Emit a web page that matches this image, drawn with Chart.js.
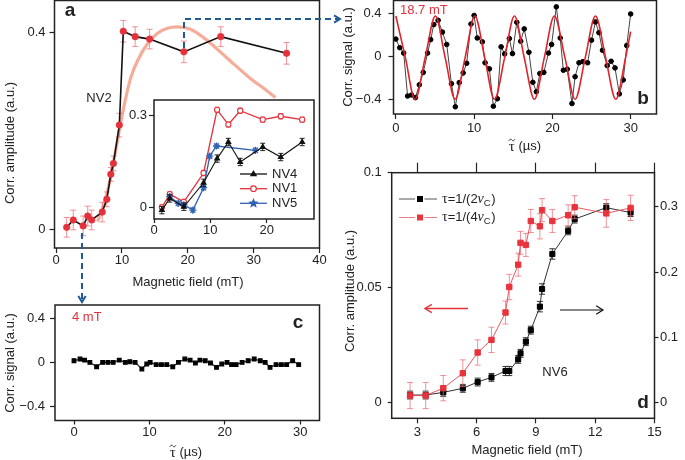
<!DOCTYPE html>
<html>
<head>
<meta charset="utf-8">
<script src="https://cdn.jsdelivr.net/npm/chart.js@4.4.1/dist/chart.umd.min.js"></script>
<style>
  html, body { margin: 0; padding: 0; background: #fff; }
  #wrap { position: relative; width: 685px; height: 460px; overflow: hidden; }
  canvas { position: absolute; left: 0; top: 0; }
</style>
</head>
<body>
<div id="wrap">
  <canvas id="cA" width="685" height="460"></canvas>
  <canvas id="cIn" width="685" height="460"></canvas>
  <canvas id="cB" width="685" height="460"></canvas>
  <canvas id="cC" width="685" height="460"></canvas>
  <canvas id="cD" width="685" height="460"></canvas>
</div>
<script>
// ── panel a: correlation amplitude vs field (NV2) ──
const aField = [1.6, 2.6, 4.1, 4.8, 5.4, 7.0, 7.7, 8.3, 8.7, 9.6, 10.2, 12.0, 14.2, 19.4, 25.0, 35.0];
const aAmp   = [0.004, 0.019, 0.007, 0.027, 0.019, 0.035, 0.061, 0.112, 0.134, 0.212, 0.403, 0.392, 0.387, 0.361, 0.392, 0.358];
const aErr   = [0.02, 0.02, 0.02, 0.02, 0.02, 0.02, 0.015, 0.014, 0.015, 0.024, 0.022, 0.02, 0.02, 0.022, 0.02, 0.022];
const aFitX  = [6.3, 7.3, 8.3, 9.3, 10.3, 11.3, 12.4, 13.9, 15.4, 16.9, 18.4, 20.4, 22.4, 24.5, 27.0, 29.5, 32.0, 33.3];
const aFitY  = [0.016, 0.053, 0.107, 0.18, 0.25, 0.307, 0.344, 0.378, 0.399, 0.409, 0.412, 0.407, 0.39, 0.366, 0.336, 0.307, 0.282, 0.268];
const aXTicks = [0, 10, 20, 30, 40];
const aYTicks = [0, 0.4];
const aYLabels = ['0', '0.4'];

// ── inset: NV1, NV4, NV5 ──
const inField = [1.4, 2.8, 5.3, 8.8, 11.2, 13.2, 15.3, 19.3, 22.5, 26.3];
const nv1 = [0.0, 0.043, 0.018, 0.112, 0.318, 0.27, 0.315, 0.286, 0.297, 0.286];
const nv4 = [-0.009, 0.029, 0.002, 0.08, 0.159, 0.213, 0.148, 0.197, 0.164, 0.213];
const nv5Field = [2.8, 4.3, 5.3, 6.9, 8.8, 9.9, 11.1, 18.0];
const nv5 = [0.035, 0.013, 0.008, -0.009, 0.064, 0.167, 0.2, 0.186];
const inXTicks = [0, 10, 20];
const inYTicks = [0, 0.3];
const inYLabels = ['0', '0.3'];

// ── panel b: correlation signal at 18.7 mT ──
const bTime = [0.0, 0.5, 1.0, 1.5, 2.0, 2.5, 3.0, 3.5, 4.05, 4.45, 4.85, 5.4, 5.95, 6.5, 7.1, 7.6, 8.1, 8.6, 9.05, 9.6,
  10.0, 10.4, 11.05, 11.4, 11.95, 12.46, 12.97, 13.45, 13.9, 14.5, 14.9, 15.45, 15.95, 16.4, 17.0, 17.5, 17.95, 18.4, 18.9, 19.5,
  19.9, 20.5, 21.0, 21.4, 21.9, 22.5, 22.9, 23.4, 23.9, 24.5, 25.0, 25.5, 25.95, 26.4, 27.0, 27.5, 28.0, 28.55, 29.05, 29.5, 30.0];
const bSig = [0.16, 0.08, 0.03, -0.37, -0.36, -0.385, -0.265, -0.15, 0.03, 0.155, 0.295, 0.335, 0.225, 0.11, -0.255, -0.47, -0.245, -0.155, -0.065, 0.3,
  0.38, 0.17, 0.134, -0.06, -0.117, -0.465, -0.395, 0.088, 0.022, 0.165, 0.025, 0.316, 0.14, 0.255, 0.037, -0.242, -0.33, -0.16, -0.15, 0.03,
  0.11, 0.46, 0.17, -0.13, -0.12, -0.44, -0.19, -0.06, -0.05, -0.06, 0.15, 0.32, 0.22, 0.056, -0.087, -0.046, -0.108, -0.35, -0.22, 0.10, 0.394];
const bFitT = [0, 1.22, 2.45, 3.75, 5.05, 6.3, 7.57, 8.85, 10.1, 11.35, 12.6, 13.9, 15.15, 16.4, 17.7, 18.97, 20.25, 21.6, 22.9, 24.2, 25.5, 26.8, 28.1, 29.35, 30.0];
const bFitY = [0.375, -0.012, -0.4, -0.012, 0.375, -0.012, -0.4, -0.012, 0.375, -0.012, -0.4, -0.012, 0.375, -0.012, -0.4, -0.012, 0.375, -0.012, -0.4, -0.012, 0.375, -0.012, -0.4, -0.012, 0.23];
const bXTicks = [0, 10, 20, 30];
const sigTicks = [-0.4, 0, 0.4];
const sigLabels = ['\u22120.4', '0', '0.4'];

// ── panel c: correlation signal at 4 mT ──
const cTime = [0, 0.8, 1.4, 2.1, 3.0, 3.8, 4.5, 5.2, 6.0, 6.8, 7.4, 8.1, 9.0, 9.65, 10.1, 10.9, 11.6, 12.3, 13.1, 13.85, 14.7,
  15.4, 16.1, 16.7, 17.4, 18.1, 18.9, 19.6, 20.3, 20.9, 21.5, 22.3, 23.1, 23.9, 24.7, 25.35, 26.0, 26.8, 27.5, 28.2, 29.0, 29.8];
const cSig = [0.015, 0.03, 0.02, 0, -0.04, 0, 0, 0, 0.02, 0, 0.006, 0, -0.06, -0.015, 0, -0.02, -0.02, -0.02, -0.04, 0, 0.03,
  0.02, -0.006, 0.02, 0.015, -0.006, -0.045, -0.015, 0, -0.02, -0.02, 0, 0.015, 0.03, 0.015, 0, -0.045, -0.02, -0.02, -0.02, 0.015, -0.02];
const cXTicks = [0, 10, 20, 30];

// ── panel d: NV6, two tau settings ──
const dField = [2.63, 3.42, 4.31, 5.3, 6.05, 6.75, 7.46, 7.65, 8.1, 8.22, 8.49, 8.74, 9.2, 9.31, 9.83, 10.63, 10.96, 12.56, 13.79];
const dRed   = [0.0031, 0.0031, 0.0063, 0.0128, 0.0218, 0.0273, 0.0392, 0.0503, 0.06, 0.0695, 0.0686, 0.079, 0.0767, 0.0837, 0.079, 0.0815, 0.085, 0.0823, 0.0847];
const dRedErr = [0.0057, 0.0057, 0.0055, 0.0058, 0.0055, 0.0055, 0.005, 0.0055, 0.005, 0.005, 0.005, 0.005, 0.0055, 0.005, 0.005, 0.0045, 0.005, 0.006, 0.0055];
const dBlack = [0.0117, 0.0117, 0.0158, 0.022, 0.0316, 0.0388, 0.0485, 0.0485, 0.0663, 0.0755, 0.0934, 0.111, 0.147, 0.174, 0.2276, 0.263, 0.281, 0.2985, 0.291];
const dBlackErr = [0.006, 0.006, 0.006, 0.006, 0.006, 0.006, 0.007, 0.007, 0.006, 0.006, 0.006, 0.006, 0.008, 0.008, 0.008, 0.006, 0.006, 0.006, 0.006];
const dXTicks = [3, 6, 9, 12, 15];
const dLTicks = [0, 0.05, 0.1];
const dLLabels = ['0', '0.05', '0.1'];
const dRTicks = [0, 0.1, 0.2, 0.3];
const dRLabels = ['0', '0.1', '0.2', '0.3'];

const W = 685, H = 460;
const FONT = '"Liberation Sans", Arial, Helvetica, sans-serif';
const SERIF = '"Liberation Serif", "Times New Roman", serif';
const INK = '#222';
const RED = '#e4313b';
const PINK = 'rgba(236,110,118,0.75)';
const BLUE = '#2f62b3';
const ARROW_BLUE = '#1f5a95';

const pts = (xs, ys) => xs.map((x, i) => ({ x, y: ys[i] }));

function scale(pos, min, max, vals, labels, size, tl, pad) {
    const horiz = pos === 'top' || pos === 'bottom';
    return {
        type: 'linear', position: pos, min, max,
        afterBuildTicks: s => { s.ticks = vals.map(v => ({ value: v })); },
        afterFit: s => {
            if (horiz) { s.height = size; s.paddingLeft = 0; s.paddingRight = 0; }
            else { s.width = size; s.paddingTop = 0; s.paddingBottom = 0; }
        },
        grid: { display: true, drawOnChartArea: false, drawTicks: true, tickLength: tl, tickColor: INK, tickWidth: 1.2 },
        border: { display: false },
        ticks: {
            display: !!labels, padding: pad, color: INK, font: { family: FONT, size: 13 },
            maxRotation: 0, autoSkip: false,
            callback: (v, i) => labels ? labels[i] : ''
        },
        title: { display: false }
    };
}

function pad(box, sizes) {
    return {
        left: box.l - (sizes.left || 0),
        top: box.t - (sizes.top || 0),
        right: W - box.r - (sizes.right || 0),
        bottom: H - box.b - (sizes.bottom || 0)
    };
}

const errPlugin = {
    id: 'errs',
    beforeDatasetDraw(chart, args) {
        const ds = chart.data.datasets[args.index];
        if (!ds.errY && !ds.errX) return;
        const meta = args.meta;
        const xs = chart.scales[meta.xAxisID], ys = chart.scales[meta.yAxisID];
        const ctx = chart.ctx;
        const cap = ds.errCap ?? 3;
        ctx.save();
        ctx.strokeStyle = ds.errColor || ds.borderColor;
        ctx.lineWidth = ds.errWidth || 1;
        ds.data.forEach((p, i) => {
            const x = xs.getPixelForValue(p.x), y = ys.getPixelForValue(p.y);
            ctx.beginPath();
            if (ds.errY) {
                const e = Array.isArray(ds.errY) ? ds.errY[i] : ds.errY;
                const y1 = ys.getPixelForValue(p.y - e), y2 = ys.getPixelForValue(p.y + e);
                ctx.moveTo(x, y1); ctx.lineTo(x, y2);
                if (cap) {
                    ctx.moveTo(x - cap, y1); ctx.lineTo(x + cap, y1);
                    ctx.moveTo(x - cap, y2); ctx.lineTo(x + cap, y2);
                }
            }
            if (ds.errX) {
                const e = Array.isArray(ds.errX) ? ds.errX[i] : ds.errX;
                ctx.moveTo(xs.getPixelForValue(p.x - e), y); ctx.lineTo(xs.getPixelForValue(p.x + e), y);
            }
            ctx.stroke();
        });
        ctx.restore();
    }
};

function text(ctx, s, x, y, o = {}) {
    ctx.save();
    ctx.font = `${o.bold ? 'bold ' : ''}${o.size || 13}px ${o.family || FONT}`;
    ctx.fillStyle = o.color || INK;
    ctx.textAlign = o.align || 'center';
    ctx.textBaseline = 'middle';
    ctx.translate(x, y);
    if (o.rot) ctx.rotate(o.rot);
    ctx.fillText(s, 0, 0);
    ctx.restore();
}

// "τ̃ (µs)" with the tilde drawn above the tau
function tauTitle(ctx, cx, cy) {
    ctx.save();
    ctx.fillStyle = INK; ctx.strokeStyle = INK;
    ctx.textBaseline = 'middle'; ctx.textAlign = 'left';
    ctx.font = `15px ${SERIF}`;
    const wt = ctx.measureText('\u03C4').width;
    ctx.font = `13px ${FONT}`;
    const rest = ' (\u00B5s)';
    const wr = ctx.measureText(rest).width;
    let x = cx - (wt + wr) / 2;
    ctx.font = `15px ${SERIF}`;
    ctx.fillText('\u03C4', x, cy + 1);
    ctx.lineWidth = 0.9;
    ctx.beginPath();
    const tx = x + wt / 2, ty = cy - 6;
    ctx.moveTo(tx - 3, ty + 0.8);
    ctx.bezierCurveTo(tx - 1.8, ty - 1.6, tx - 0.6, ty - 0.8, tx, ty);
    ctx.bezierCurveTo(tx + 0.6, ty + 0.8, tx + 1.8, ty + 1.6, tx + 3, ty - 0.8);
    ctx.stroke();
    ctx.font = `13px ${FONT}`;
    ctx.fillText(rest, x + wt, cy);
    ctx.restore();
}

function arrow(ctx, path, color, o = {}) {
    ctx.save();
    ctx.strokeStyle = color;
    ctx.lineWidth = o.w || 1.5;
    ctx.setLineDash(o.dash || []);
    ctx.beginPath();
    path.forEach((p, i) => i ? ctx.lineTo(p[0], p[1]) : ctx.moveTo(p[0], p[1]));
    ctx.stroke();
    ctx.setLineDash([]);
    const [x2, y2] = path[path.length - 1], [x1, y1] = path[path.length - 2];
    const a = Math.atan2(y2 - y1, x2 - x1), h = o.head || 7;
    ctx.beginPath();
    ctx.moveTo(x2 - h * Math.cos(a - 0.55), y2 - h * Math.sin(a - 0.55));
    ctx.lineTo(x2, y2);
    ctx.lineTo(x2 - h * Math.cos(a + 0.55), y2 - h * Math.sin(a + 0.55));
    ctx.stroke();
    ctx.restore();
}

function marker(ctx, style, x, y, r, fill, stroke) {
    ctx.save();
    ctx.fillStyle = fill; ctx.strokeStyle = stroke; ctx.lineWidth = 1.2;
    ctx.beginPath();
    if (style === 'triangle') {
        ctx.moveTo(x, y - r); ctx.lineTo(x + r * 0.95, y + r * 0.6); ctx.lineTo(x - r * 0.95, y + r * 0.6); ctx.closePath();
    } else if (style === 'rect') {
        ctx.rect(x - r, y - r, 2 * r, 2 * r);
    } else if (style === 'star') {
        for (let k = 0; k < 10; k++) {
            const rr = k % 2 ? r * 0.45 : r, a = -Math.PI / 2 + k * Math.PI / 5;
            k ? ctx.lineTo(x + rr * Math.cos(a), y + rr * Math.sin(a)) : ctx.moveTo(x + rr * Math.cos(a), y + rr * Math.sin(a));
        }
        ctx.closePath();
    } else {
        ctx.arc(x, y, r, 0, Math.PI * 2);
    }
    ctx.fill(); ctx.stroke();
    ctx.restore();
}

function deco(opts) {
    return {
        id: 'deco',
        beforeDraw(chart) {
            if (!opts.fill) return;
            const a = chart.chartArea;
            chart.ctx.save();
            chart.ctx.fillStyle = opts.fill;
            chart.ctx.fillRect(a.left, a.top, a.right - a.left, a.bottom - a.top);
            chart.ctx.restore();
        },
        afterDraw(chart) {
            const ctx = chart.ctx, a = chart.chartArea;
            ctx.save();
            ctx.strokeStyle = INK;
            ctx.lineWidth = opts.frameW || 1.5;
            ctx.strokeRect(a.left, a.top, a.right - a.left, a.bottom - a.top);
            ctx.restore();
            if (opts.draw) opts.draw(ctx, chart);
        }
    };
}

function baseOptions(padding, scales) {
    return {
        responsive: false, animation: false, devicePixelRatio: 1, events: [],
        layout: { padding, autoPadding: false },
        plugins: { legend: { display: false }, tooltip: { enabled: false } },
        scales
    };
}

// ── panel a ──
const boxA = { l: 54.5, t: 0.5, r: 319.5, b: 248 };
new Chart(document.getElementById('cA'), {
    type: 'scatter',
    data: {
        datasets: [{
            data: pts(aField, aAmp), showLine: true,
            borderColor: '#111', borderWidth: 1.6,
            pointStyle: 'circle', pointRadius: 3.3, pointBackgroundColor: RED, pointBorderColor: RED, pointBorderWidth: 0.5,
            errY: aErr, errColor: PINK, errCap: 3
        }, {
            data: pts(aFitX, aFitY), showLine: true,
            borderColor: 'rgba(244,168,148,0.95)', borderWidth: 3.2, pointRadius: 0,
            cubicInterpolationMode: 'monotone'
        }]
    },
    options: baseOptions(pad(boxA, { left: 40, bottom: 30 }), {
        x: scale('bottom', -0.25, 40, aXTicks, aXTicks.map(String), 30, 5, 0),
        y: scale('left', -0.038, 0.4655, aYTicks, aYLabels, 40, 5, 4)
    }),
    plugins: [errPlugin, deco({
        draw(ctx) {
            text(ctx, 'a', 70, 11, { bold: true, size: 19 });
            text(ctx, 'NV2', 99, 98);
            text(ctx, 'Corr. amplitude (a.u.)', 10, 143, { rot: -Math.PI / 2 });
            text(ctx, 'Magnetic field (mT)', 188, 282);
            arrow(ctx, [[184, 48], [184, 19], [340, 19]], ARROW_BLUE, { w: 2, dash: [6, 4], head: 7 });
            arrow(ctx, [[82, 233], [82, 302]], ARROW_BLUE, { w: 2, dash: [6, 4], head: 7 });
        }
    })]
});

// ── inset ──
const boxIn = { l: 154, t: 100, r: 314, b: 219 };
new Chart(document.getElementById('cIn'), {
    type: 'scatter',
    data: {
        datasets: [{
            data: pts(inField, nv4), showLine: true,
            borderColor: '#111', borderWidth: 1.1,
            pointStyle: 'triangle', pointRadius: 2.8, pointBackgroundColor: '#111', pointBorderColor: '#111',
            errY: 0.012, errColor: '#222', errCap: 2.5
        }, {
            data: pts(nv5Field, nv5), showLine: true,
            borderColor: BLUE, borderWidth: 1.3,
            pointStyle: 'star', pointRadius: 3.6, pointBackgroundColor: BLUE, pointBorderColor: BLUE, pointBorderWidth: 1.3,
            errY: 0.008, errColor: 'rgba(90,130,200,0.7)', errCap: 2
        }, {
            data: pts(inField, nv1), showLine: true,
            borderColor: RED, borderWidth: 1.3,
            pointStyle: 'circle', pointRadius: 2.6, pointBackgroundColor: '#fff', pointBorderColor: RED, pointBorderWidth: 1.1,
            errY: 0.009, errColor: PINK, errCap: 2.5
        }]
    },
    options: baseOptions(pad(boxIn, { left: 40, bottom: 28 }), {
        x: scale('bottom', 0, 28.4, inXTicks, inXTicks.map(String), 28, 4, 0),
        y: scale('left', -0.038, 0.35, inYTicks, inYLabels, 40, 5, 2)
    }),
    plugins: [errPlugin, deco({
        fill: '#fff', frameW: 1.5,
        draw(ctx) {
            const rows = [['NV4', '#111', 'triangle', '#111', 174], ['NV1', RED, 'circle', '#fff', 188.7], ['NV5', BLUE, 'star', BLUE, 203.3]];
            rows.forEach(([name, col, st, fill, y]) => {
                ctx.save();
                ctx.strokeStyle = col; ctx.lineWidth = 1.3;
                ctx.beginPath(); ctx.moveTo(240, y); ctx.lineTo(267, y); ctx.stroke();
                ctx.restore();
                marker(ctx, st, 253.5, y, st === 'star' ? 3.8 : 2.8, fill, col);
                text(ctx, name, 272, y, { align: 'left' });
            });
        }
    })]
});

// ── panel b ──
const boxB = { l: 393.5, t: 0.5, r: 656.5, b: 114 };
new Chart(document.getElementById('cB'), {
    type: 'scatter',
    data: {
        datasets: [{
            data: pts(bFitT, bFitY), showLine: true,
            borderColor: '#e1222c', borderWidth: 1.6, pointRadius: 0,
            cubicInterpolationMode: 'monotone'
        }, {
            data: pts(bTime, bSig), showLine: true,
            borderColor: '#444', borderWidth: 1,
            pointStyle: 'circle', pointRadius: 2.3, pointBackgroundColor: '#000', pointBorderColor: '#000',
            errX: 0.3, errColor: '#000', errWidth: 1.5
        }]
    },
    options: baseOptions(pad(boxB, { left: 42, bottom: 40 }), {
        x: scale('bottom', -0.3, 33.3, bXTicks, bXTicks.map(String), 40, 5, 1.5),
        y: scale('left', -0.537, 0.519, sigTicks, sigLabels, 42, 5, 7)
    }),
    plugins: [errPlugin, deco({
        draw(ctx) {
            text(ctx, '18.7 mT', 400, 10, { align: 'left', color: RED });
            text(ctx, 'b', 643, 99, { bold: true, size: 19 });
            text(ctx, 'Corr. signal (a.u.)', 348, 57, { rot: -Math.PI / 2 });
            tauTitle(ctx, 525, 146);
        }
    })]
});

// ── panel c ──
const boxC = { l: 55, t: 305, r: 319.5, b: 420.5 };
new Chart(document.getElementById('cC'), {
    type: 'scatter',
    data: {
        datasets: [{
            data: pts(cTime, cSig), showLine: true,
            borderColor: '#222', borderWidth: 1.2,
            pointStyle: 'rect', pointRadius: 2.6, pointBackgroundColor: '#000', pointBorderColor: '#000'
        }]
    },
    options: baseOptions(pad(boxC, { left: 42, bottom: 39 }), {
        x: scale('bottom', -2.52, 32.56, cXTicks, cXTicks.map(String), 39, 4, 0),
        y: scale('left', -0.527, 0.52, sigTicks, sigLabels, 42, 5, 5)
    }),
    plugins: [errPlugin, deco({
        draw(ctx) {
            text(ctx, '4 mT', 72, 317, { align: 'left', color: RED });
            text(ctx, 'c', 298, 323, { bold: true, size: 19 });
            text(ctx, 'Corr. signal (a.u.)', 10, 363, { rot: -Math.PI / 2 });
            tauTitle(ctx, 186, 452);
        }
    })]
});

// ── panel d ──
const boxD = { l: 391.7, t: 172.7, r: 654.5, b: 418.3 };
function tauLabel(ctx, x, y, n) {
    ctx.save();
    ctx.fillStyle = INK; ctx.textBaseline = 'middle'; ctx.textAlign = 'left';
    ctx.font = `14px ${SERIF}`;
    ctx.fillText('\u03C4', x, y);
    let cx = x + ctx.measureText('\u03C4').width;
    ctx.font = `13px ${FONT}`;
    const s1 = `=1/(${n}`;
    ctx.fillText(s1, cx, y);
    cx += ctx.measureText(s1).width;
    ctx.font = `italic 14px ${SERIF}`;
    ctx.fillText('\u03BD', cx, y);
    cx += ctx.measureText('\u03BD').width;
    ctx.font = `9.5px ${FONT}`;
    ctx.fillText('C', cx, y + 4);
    cx += ctx.measureText('C').width + 0.5;
    ctx.font = `13px ${FONT}`;
    ctx.fillText(')', cx, y);
    ctx.restore();
}
new Chart(document.getElementById('cD'), {
    type: 'scatter',
    data: {
        datasets: [{
            data: pts(dField, dRed), yAxisID: 'yL', showLine: true,
            borderColor: 'rgba(232,70,80,0.9)', borderWidth: 1,
            pointStyle: 'rect', pointRadius: 3.8, pointBackgroundColor: '#e8333d', pointBorderColor: '#e8333d',
            errY: dRedErr, errColor: PINK, errCap: 3
        }, {
            data: pts(dField, dBlack), yAxisID: 'yR', showLine: true,
            borderColor: '#333', borderWidth: 1,
            pointStyle: 'rect', pointRadius: 3.6, pointBackgroundColor: '#000', pointBorderColor: '#000',
            errY: dBlackErr, errColor: '#333', errCap: 3
        }]
    },
    options: baseOptions(pad(boxD, { left: 40, bottom: 36, top: 10, right: 30 }), {
        x: scale('bottom', 1.7, 15, dXTicks, dXTicks.map(String), 36, 5, 1),
        xTop: scale('top', 1.7, 15, dXTicks, null, 10, 10, 0),
        yL: scale('left', -0.0068, 0.1, dLTicks, dLLabels, 40, 4, 6),
        yR: scale('right', -0.0239, 0.352, dRTicks, dRLabels, 30, 4, 1.5)
    }),
    plugins: [errPlugin, deco({
        draw(ctx) {
            text(ctx, 'Corr. amplitude (a.u.)', 350, 291, { rot: -Math.PI / 2 });
            text(ctx, 'Magnetic field (mT)', 527, 450);
            text(ctx, 'NV6', 555, 372);
            text(ctx, 'd', 643, 403, { bold: true, size: 19 });
            arrow(ctx, [[468, 308.5], [425, 308.5]], RED, { w: 1.4, head: 8 });
            arrow(ctx, [[560, 310], [603, 310]], '#111', { w: 1.2, head: 8 });
            [[199, '#555', '#000', 2], [217.5, 'rgba(232,90,100,0.8)', '#e8333d', 4]].forEach(([y, lc, mc, n]) => {
                ctx.save();
                ctx.strokeStyle = lc; ctx.lineWidth = 1;
                ctx.beginPath(); ctx.moveTo(399, y); ctx.lineTo(415, y); ctx.moveTo(424.5, y); ctx.lineTo(437, y); ctx.stroke();
                ctx.restore();
                marker(ctx, 'rect', 420, y, 2.4, mc, mc);
                tauLabel(ctx, 442, y, n);
            });
        }
    })]
});
</script>
</body>
</html>
